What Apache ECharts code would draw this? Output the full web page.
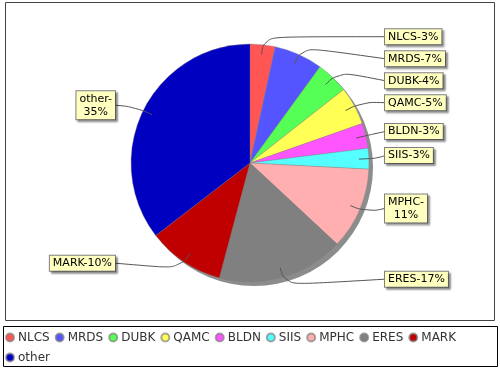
<!DOCTYPE html>
<html>
<head>
<meta charset="utf-8">
<script src="https://cdn.jsdelivr.net/npm/echarts@6/dist/echarts.min.js"></script>
<style>
  html, body { margin: 0; padding: 0; background: #ffffff; }
  #chart { width: 500px; height: 370px; }
</style>
</head>
<body>
<div id="chart"></div>
<script>
// ---- data ----
const categories = ['NLCS', 'MRDS', 'DUBK', 'QAMC', 'BLDN', 'SIIS', 'MPHC', 'ERES', 'MARK', 'other'];
const values = [3.4, 6.6, 4.4, 5.2, 3.4, 2.8, 11.1, 17.2, 10.4, 35.4];
const colors = ['#FF5555', '#5555FF', '#55FF55', '#FFFF55', '#FF55FF', '#55FFFF', '#FFAFAF', '#808080', '#C00000', '#0000C0'];
const wrappedLabels = ['MPHC', 'other'];

const total = values.reduce((a, b) => a + b, 0);
const FONT = '"DejaVu Sans", sans-serif';

// ---- layout constants (not data) ----
const CX = 250, CY = 163, R = 119;
const LABEL_CY = 160, LABEL_R = 124, MIN_GAP = 22, LABEL_OFFSET = 16;

// JFreeChart-like label placement: natural y from slice mid angle, then pushed apart per side
function computeLabelLayout() {
  let acc = 0;
  const mids = values.map(v => { const m = (acc + v / 2) / total * 2 * Math.PI; acc += v; return m; });
  const ys = mids.map(m => LABEL_CY - LABEL_R * Math.cos(m));
  const side = mids.map(m => (Math.sin(m) >= 0 ? 1 : -1));
  [1, -1].forEach(s => {
    const idx = ys.map((y, i) => i).filter(i => side[i] === s).sort((a, b) => ys[a] - ys[b]);
    for (let k = 1; k < idx.length; k++) {
      if (ys[idx[k]] < ys[idx[k - 1]] + MIN_GAP) ys[idx[k]] = ys[idx[k - 1]] + MIN_GAP;
    }
  });
  return { mids, ys, side };
}
const lab = computeLabelLayout();

const pieData = categories.map((c, i) => ({ name: c, value: values[i] }));

const chart = echarts.init(document.getElementById('chart'), null, { renderer: 'canvas' });

const option = {
  backgroundColor: '#ffffff',
  animation: false,
  color: colors,
  graphic: [
    { type: 'rect', shape: { x: 5.5, y: 2.5, width: 489, height: 318 },
      style: { fill: 'none', stroke: '#444444', lineWidth: 1 }, z: 0, silent: true },
    { type: 'rect', shape: { x: 3.5, y: 326.5, width: 494, height: 40 },
      style: { fill: 'none', stroke: '#000000', lineWidth: 1 }, z: 0, silent: true }
  ],
  legend: {
    data: categories,
    left: 5,
    top: 330,
    width: 470,
    padding: 0,
    icon: 'circle',
    itemWidth: 8,
    itemHeight: 8,
    itemGap: 5,
    textStyle: { fontFamily: FONT, fontSize: 12, lineHeight: 15, color: '#333333', padding: [0, 0, 0, -1] }
  },
  series: [
    {
      type: 'pie',
      name: 'shadow',
      silent: true,
      center: [CX + 4, CY + 4],
      radius: R,
      startAngle: 90,
      label: { show: false },
      labelLine: { show: false },
      itemStyle: { color: '#8c8c8c' },
      data: [{ value: 1, name: '__shadow' }],
      z: 1
    },
    {
      type: 'pie',
      name: 'share',
      center: [CX, CY],
      radius: R,
      startAngle: 90,
      clockwise: true,
      itemStyle: { borderColor: 'rgba(128,128,128,0.7)', borderWidth: 0.5 },
      label: { show: false },
      labelLine: { show: false },
      emphasis: { disabled: true },
      data: pieData,
      z: 2
    },
    {
      type: 'pie',
      name: 'labels',
      silent: true,
      center: [CX, CY],
      radius: R,
      startAngle: 90,
      clockwise: true,
      itemStyle: { color: 'rgba(0,0,0,0)', borderWidth: 0 },
      label: {
        show: true,
        position: 'outside',
        fontFamily: FONT,
        fontSize: 11,
        lineHeight: 13,
        color: '#000000',
        backgroundColor: '#FFFFC0',
        borderColor: '#808080',
        borderWidth: 1,
        padding: [1, 3, 1, 3],
        shadowColor: 'rgba(0,0,0,0.35)',
        shadowOffsetX: 2,
        shadowOffsetY: 2,
        shadowBlur: 2,
        formatter: function (p) {
          const pct = Math.round(p.value / total * 100);
          if (wrappedLabels.indexOf(p.name) >= 0) {
            return '{c|' + p.name + '-}\n{c|' + pct + '%}';
          }
          return p.name + '-' + pct + '%';
        },
        rich: {
          c: { align: 'center', fontFamily: FONT, fontSize: 11, lineHeight: 13, color: '#000000' }
        }
      },
      labelLine: {
        show: true,
        length: 8,
        length2: 8,
        smooth: 0.5,
        lineStyle: { color: '#555555', width: 1 }
      },
      labelLayout: function (p) {
        const i = p.dataIndex;
        const m = lab.mids[i];
        const s = lab.side[i];
        const y = lab.ys[i];
        const x = s > 0 ? CX + R + LABEL_OFFSET : CX - R - LABEL_OFFSET;
        const inner = [CX + (R - 10) * Math.sin(m), CY - (R - 10) * Math.cos(m)];
        const elbow = [CX + (R + 8) * Math.sin(m), CY - (R + 8) * Math.cos(m)];
        return {
          x: x,
          y: y,
          align: s > 0 ? 'left' : 'right',
          verticalAlign: 'middle',
          labelLinePoints: [inner, elbow, [x, y]]
        };
      },
      emphasis: { disabled: true },
      data: pieData,
      z: 3
    }
  ]
};

chart.setOption(option);
</script>
</body>
</html>
